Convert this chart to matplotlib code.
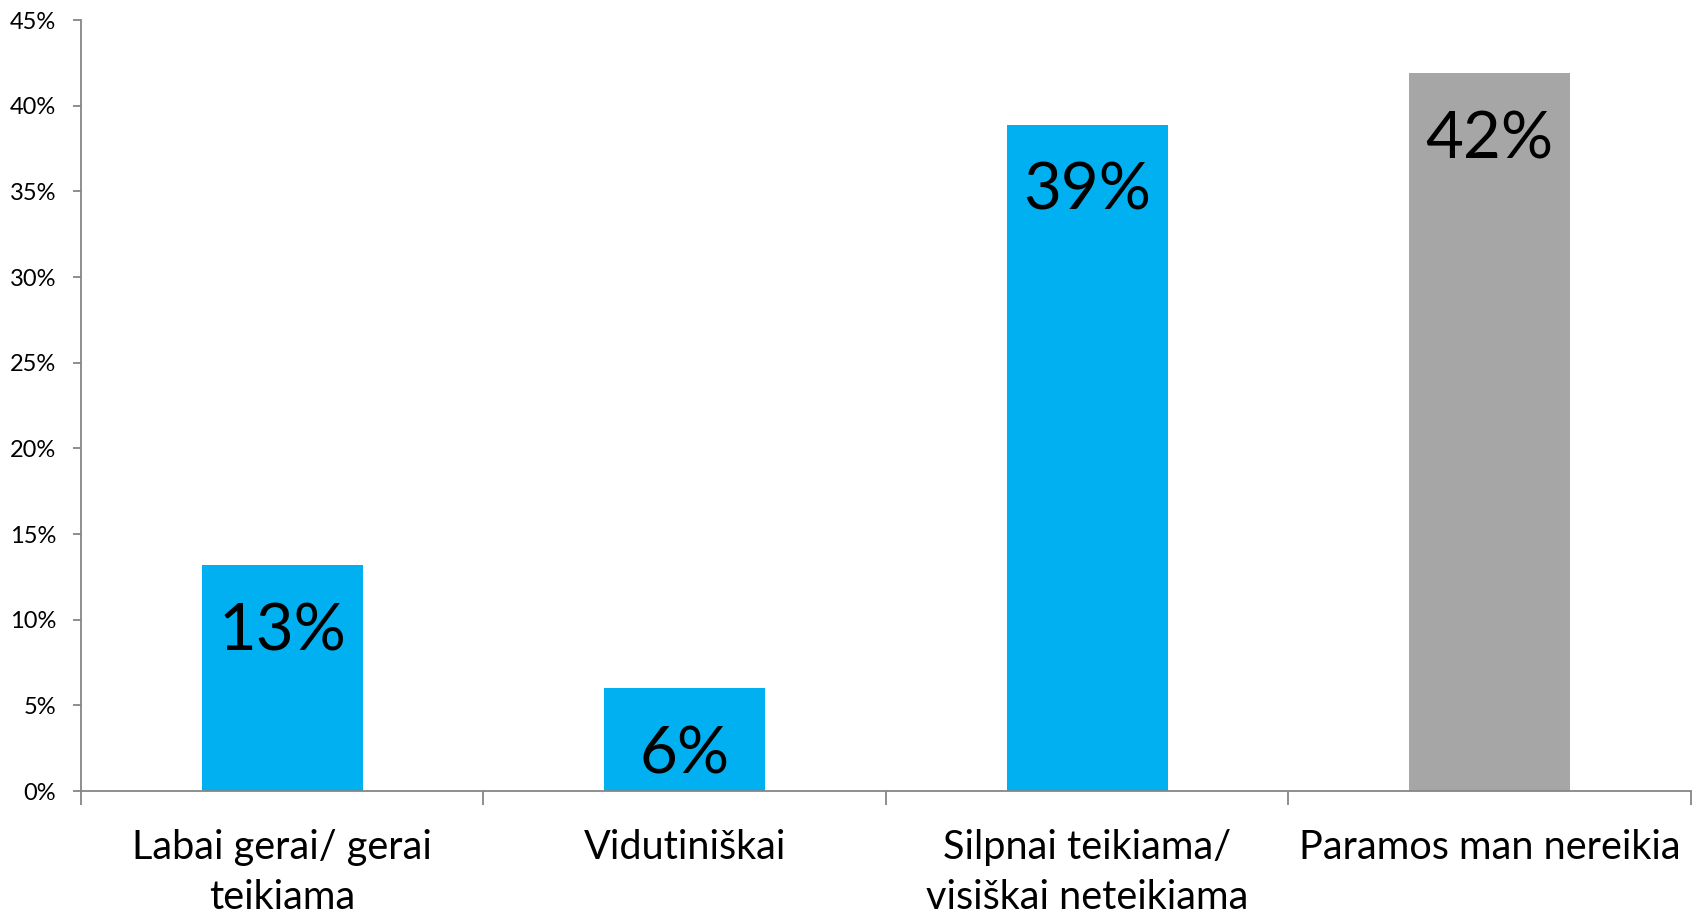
import matplotlib.pyplot as plt
from matplotlib.ticker import MultipleLocator, FuncFormatter, FixedLocator

categories = ['Labai gerai/ gerai\nteikiama', 'Vidutiniškai',
              'Silpnai teikiama/\nvisiškai neteikiama', 'Paramos man nereikia']
values = [13.2, 6.0, 38.9, 41.9]
labels = ['13%', '6%', '39%', '42%']
colors = ['#00B0F0', '#00B0F0', '#00B0F0', '#A6A6A6']

plt.rcParams['font.family'] = ['Lato', 'DejaVu Sans']

fig = plt.figure(figsize=(17.02, 9.15), dpi=100)
ax = fig.add_axes([0.0476, 0.1355, 0.9459, 0.8425])

x = list(range(len(categories)))
bars = ax.bar(x, values, width=0.4, color=colors)

for xi, v, lab in zip(x, values, labels):
    ax.annotate(lab, (xi, v), xytext=(0, -48), textcoords='offset points',
                ha='center', va='center', fontsize=47, color='black')

ax.set_xlim(-0.5, len(categories) - 0.5)
ax.set_ylim(0, 45)
ax.yaxis.set_major_locator(MultipleLocator(5))
ax.yaxis.set_major_formatter(FuncFormatter(lambda v, p: f'{v:.0f}%'))
ax.tick_params(axis='y', labelsize=17, length=6, width=1.3, color='#868686', pad=12)

# category boundaries as ticks, labels in the middle
ax.xaxis.set_major_locator(FixedLocator([i - 0.5 for i in range(len(categories) + 1)]))
ax.xaxis.set_minor_locator(FixedLocator(x))
ax.set_xticklabels([''] * (len(categories) + 1))
ax.set_xticklabels(categories, minor=True)
ax.tick_params(axis='x', which='major', length=10, width=1.3, color='#868686')
ax.tick_params(axis='x', which='minor', length=0, labelsize=28.5, pad=27)
for t in ax.get_xticklabels(minor=True):
    t.set_linespacing(1.45)

for s in ['top', 'right']:
    ax.spines[s].set_visible(False)
for s in ['left', 'bottom']:
    ax.spines[s].set_color('#868686')
    ax.spines[s].set_linewidth(1.3)

fig.savefig('out.png', dpi=100)
